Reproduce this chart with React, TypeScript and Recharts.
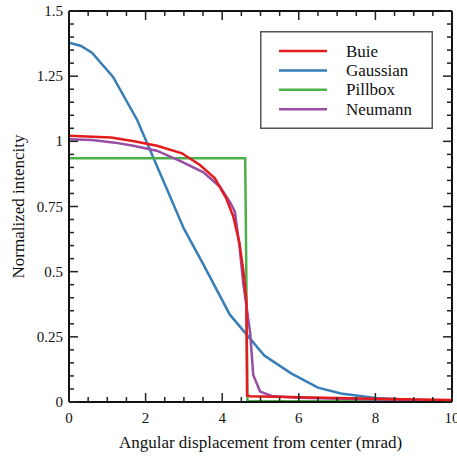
import React from 'react';
import { LineChart, Line, XAxis, YAxis, Legend } from 'recharts';

// ---- data ----
const xTicks = [0, 0.5, 1, 1.5, 2, 2.5, 3, 3.5, 4, 4.5, 5, 5.5, 6, 6.5, 7, 7.5, 8, 8.5, 9, 9.5, 10];
const xLabelTicks = [0, 2, 4, 6, 8, 10];
const yTicks = [
  0, 0.05, 0.1, 0.15, 0.2, 0.25, 0.3, 0.35, 0.4, 0.45, 0.5, 0.55, 0.6, 0.65, 0.7, 0.75,
  0.8, 0.85, 0.9, 0.95, 1, 1.05, 1.1, 1.15, 1.2, 1.25, 1.3, 1.35, 1.4, 1.45, 1.5,
];
const yLabelTicks = [0, 0.25, 0.5, 0.75, 1, 1.25, 1.5];

const seriesNames = ['Buie', 'Gaussian', 'Pillbox', 'Neumann'];
const seriesColors = ['#e41a1c', '#377eb8', '#4daf4a', '#984ea3'];

const buieX = [0, 1.1, 1.7, 2.3, 2.95, 3.42, 3.81, 4.11, 4.29, 4.45, 4.55, 4.63, 4.65, 4.72, 6, 8, 10];
const buieY = [1.021, 1.015, 1.0, 0.983, 0.954, 0.909, 0.858, 0.78, 0.711, 0.61, 0.506, 0.39, 0.025, 0.022, 0.018, 0.012, 0.008];

const gaussX = [0, 0.3, 0.6, 1.15, 1.78, 2.4, 3.0, 3.5, 4.2, 5.1, 5.8, 6.5, 7.1, 8.0, 9.0, 10];
const gaussY = [1.378, 1.367, 1.34, 1.247, 1.082, 0.87, 0.665, 0.53, 0.335, 0.178, 0.11, 0.055, 0.033, 0.015, 0.008, 0.005];

const pillX = [0, 4.6, 4.61, 4.66, 10];
const pillY = [0.935, 0.935, 0.8, 0.004, 0.002];

const neuX = [0, 0.6, 1.2, 1.68, 2.29, 2.94, 3.51, 3.94, 4.2, 4.33, 4.45, 4.55, 4.65, 4.73, 4.81, 4.99, 5.29, 6, 8, 10];
const neuY = [1.008, 1.005, 0.995, 0.983, 0.964, 0.922, 0.881, 0.826, 0.768, 0.73, 0.6, 0.455, 0.35, 0.265, 0.104, 0.04, 0.023, 0.016, 0.01, 0.006];

const toRows = (xs: number[], ys: number[]) => xs.map((x, i) => ({ x, y: ys[i] }));
const buieData = toRows(buieX, buieY);
const gaussData = toRows(gaussX, gaussY);
const pillData = toRows(pillX, pillY);
const neuData = toRows(neuX, neuY);

// ---- layout ----
const W = 457;
const H = 457;
const LEFT = 69;
const RIGHT = 452;
const TOP = 11;
const BOTTOM = 402;
const MAJOR = 9;
const MINOR = 5;
const FONT = "'Liberation Serif', 'Times New Roman', serif";
const TICK_COLOR = '#222';

const isIn = (v: number, list: number[]) => list.some((t) => Math.abs(t - v) < 1e-9);

const BottomTick = (props: any) => {
  const { x, payload } = props;
  const v = payload.value;
  const major = isIn(v, xLabelTicks);
  return (
    <g>
      <line x1={x} x2={x} y1={BOTTOM} y2={BOTTOM - (major ? MAJOR : MINOR)} stroke={TICK_COLOR} strokeWidth={1.5} />
      {major && (
        <text x={x} y={418} textAnchor="middle" dominantBaseline="central" fontFamily={FONT} fontSize={15} fill="#111">
          {String(v)}
        </text>
      )}
    </g>
  );
};

const TopTick = (props: any) => {
  const { x, payload } = props;
  const major = isIn(payload.value, xLabelTicks);
  return <line x1={x} x2={x} y1={TOP} y2={TOP + (major ? MAJOR : MINOR)} stroke={TICK_COLOR} strokeWidth={1.5} />;
};

const LeftTick = (props: any) => {
  const { y, payload } = props;
  const v = payload.value;
  const major = isIn(v, yLabelTicks);
  return (
    <g>
      <line x1={LEFT} x2={LEFT + (major ? MAJOR : MINOR)} y1={y} y2={y} stroke={TICK_COLOR} strokeWidth={1.5} />
      {major && (
        <text x={63} y={y} textAnchor="end" dominantBaseline="central" fontFamily={FONT} fontSize={15} fill="#111">
          {String(v)}
        </text>
      )}
    </g>
  );
};

const RightTick = (props: any) => {
  const { y, payload } = props;
  const major = isIn(payload.value, yLabelTicks);
  return <line x1={RIGHT} x2={RIGHT - (major ? MAJOR : MINOR)} y1={y} y2={y} stroke={TICK_COLOR} strokeWidth={1.5} />;
};

const renderXLabel = () => (
  <text x={(LEFT + RIGHT) / 2} y={442} textAnchor="middle" dominantBaseline="central" fontFamily={FONT} fontSize={17} fill="#111">
    Angular displacement from center (mrad)
  </text>
);

const renderYLabel = () => (
  <text
    x={18}
    y={(TOP + BOTTOM) / 2}
    transform={`rotate(-90 18 ${(TOP + BOTTOM) / 2})`}
    textAnchor="middle"
    dominantBaseline="central"
    fontFamily={FONT}
    fontSize={17}
    fill="#111"
  >
    Normalized intencity
  </text>
);

const renderLegend = () => (
  <svg width={173} height={98} style={{ display: 'block' }}>
    <rect x={0.75} y={0.75} width={171.5} height={96.5} fill="#fff" stroke="#555" strokeWidth={1.5} />
    {seriesNames.map((n, i) => {
      const cy = 20 + i * 19.4;
      return (
        <g key={n}>
          <line x1={19} x2={67} y1={cy} y2={cy} stroke={seriesColors[i]} strokeWidth={2.5} />
          <text x={86} y={cy} dominantBaseline="central" fontFamily={FONT} fontSize={17} fill="#111">
            {n}
          </text>
        </g>
      );
    })}
  </svg>
);

export default function App() {
  return (
    <div style={{ position: 'absolute', left: 0, top: 0, width: W, height: H, background: '#fff' }}>
      <LineChart width={W} height={H} margin={{ top: 0, right: 0, bottom: 0, left: 0 }}>
        <XAxis
          xAxisId="bottom"
          orientation="bottom"
          type="number"
          dataKey="x"
          domain={[0, 10]}
          ticks={xTicks}
          interval={0}
          height={H - BOTTOM}
          allowDataOverflow
          tickLine={false}
          axisLine={{ stroke: '#111', strokeWidth: 2 }}
          tick={<BottomTick />}
          label={renderXLabel}
        />
        <XAxis
          xAxisId="top"
          orientation="top"
          type="number"
          dataKey="x"
          domain={[0, 10]}
          ticks={xTicks}
          interval={0}
          height={TOP}
          allowDataOverflow
          tickLine={false}
          axisLine={{ stroke: '#111', strokeWidth: 2 }}
          tick={<TopTick />}
        />
        <YAxis
          yAxisId="left"
          orientation="left"
          type="number"
          domain={[0, 1.5]}
          ticks={yTicks}
          interval={0}
          width={LEFT}
          allowDataOverflow
          tickLine={false}
          axisLine={{ stroke: '#111', strokeWidth: 2 }}
          tick={<LeftTick />}
          label={renderYLabel}
        />
        <YAxis
          yAxisId="right"
          orientation="right"
          type="number"
          domain={[0, 1.5]}
          ticks={yTicks}
          interval={0}
          width={W - RIGHT}
          allowDataOverflow
          tickLine={false}
          axisLine={{ stroke: '#111', strokeWidth: 2 }}
          tick={<RightTick />}
        />
        <Line xAxisId="bottom" yAxisId="left" data={gaussData} dataKey="y" name="Gaussian" type="linear" stroke={seriesColors[1]} strokeWidth={2.5} dot={false} isAnimationActive={false} />
        <Line xAxisId="bottom" yAxisId="left" data={pillData} dataKey="y" name="Pillbox" type="linear" stroke={seriesColors[2]} strokeWidth={2.5} dot={false} isAnimationActive={false} />
        <Line xAxisId="bottom" yAxisId="left" data={neuData} dataKey="y" name="Neumann" type="linear" stroke={seriesColors[3]} strokeWidth={2.5} dot={false} isAnimationActive={false} />
        <Line xAxisId="bottom" yAxisId="left" data={buieData} dataKey="y" name="Buie" type="linear" stroke={seriesColors[0]} strokeWidth={2.5} dot={false} isAnimationActive={false} />
        <Legend
          layout="vertical"
          align="center"
          verticalAlign="middle"
          content={renderLegend}
          wrapperStyle={{ left: 260, top: 31, width: 173, height: 98 }}
        />
      </LineChart>
    </div>
  );
}
